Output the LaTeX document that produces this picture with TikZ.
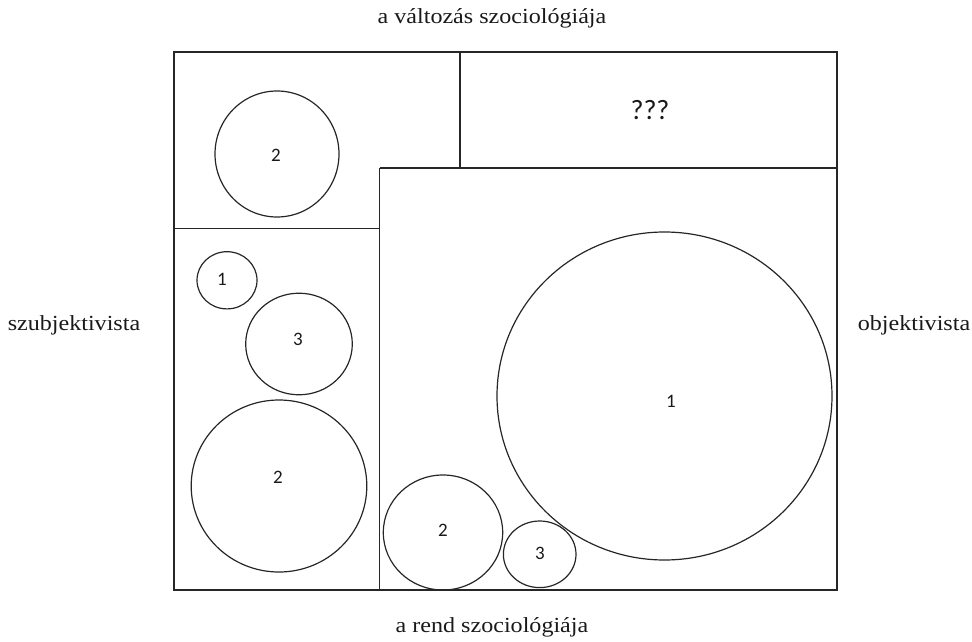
\documentclass[tikz,border=0pt]{standalone}
\usepackage{fontspec}
\setmainfont[FakeStretch=1.12]{Liberation Serif}
\newfontfamily\numfont{Carlito}
\begin{document}
\begin{tikzpicture}[x=1pt,y=-1pt,
  panel/.style={draw=black!85,line width=1.4pt},
  blob/.style={draw=black!85,line width=1.2pt},
  num/.style={font=\numfont\fontsize{19}{22}\selectfont,text=black!90},
  axis/.style={font=\fontsize{21.5}{26}\selectfont,text=black!90}]
\useasboundingbox (0,0) rectangle (972,642);
% panels
\draw[panel] (174,52) rectangle (837,590);
\draw[panel] (460,52) -- (460,168);
\draw[panel] (379.5,168) -- (837,168);
\draw[panel] (379.5,168) -- (379.5,590);
\draw[panel] (174,228.5) -- (379.5,228.5);
% circles
\draw[blob] (277,154) ellipse [x radius=62,y radius=63];
\draw[blob] (227,280.3) ellipse [x radius=30,y radius=28.6];
\draw[blob] (299,344) ellipse [x radius=53.3,y radius=50.8];
\draw[blob] (279,486) ellipse [x radius=87.8,y radius=86];
\draw[blob] (443,532.5) ellipse [x radius=59.7,y radius=57.5];
\draw[blob] (539.7,554.3) ellipse [x radius=36.3,y radius=33.3];
\draw[blob] (664.5,396) ellipse [x radius=167.5,y radius=164];
% labels
\node[num] (t2) at (276,155) {2};
\node[num] (l1) at (222,279) {1};
\node[num] (l3) at (298,339) {3};
\node[num] (l2) at (278,477) {2};
\node[num] (b2) at (443,530) {2};
\node[num] (b3) at (540,553) {3};
\node[num] (r1) at (671,401) {1};
\node[font=\numfont\fontsize{28}{32}\selectfont,text=black!90] (q) at (650,110) {???};
\node[axis] (top) at (492,18) {a változás szociológiája};
\node[axis] (bot) at (492,627) {a rend szociológiája};
\node[axis] (left) at (74,325) {szubjektivista};
\node[axis] (right) at (914,325) {objektivista};
\end{tikzpicture}
\end{document}
